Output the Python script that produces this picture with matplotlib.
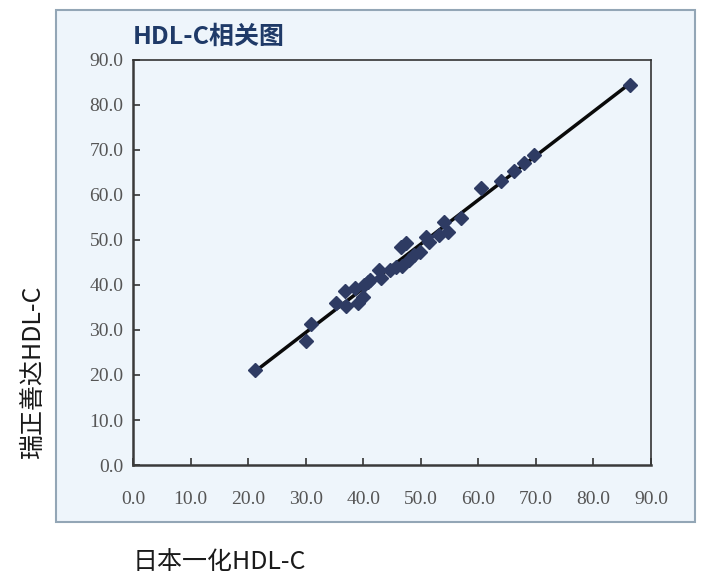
import matplotlib
matplotlib.use('Agg')
import matplotlib.pyplot as plt
import numpy as np
from matplotlib.patches import Rectangle

plt.rcParams['font.family'] = ['Noto Sans CJK SC', 'DejaVu Sans']

# 日本一化 HDL-C (x) vs 瑞正善达 HDL-C (y)
x_vals = [21.2, 30.1, 31.0, 35.3, 36.9, 37.0, 38.5, 39.1, 39.9, 40.2,
          40.8, 41.1, 42.8, 43.1, 44.6, 45.7, 46.8, 46.6, 47.5, 48.0,
          48.9, 49.8, 50.9, 51.5, 53.2, 54.1, 54.7, 57.0, 60.4, 63.9,
          66.2, 68.0, 69.7, 86.3]
y_vals = [21.0, 27.6, 31.3, 35.9, 38.7, 35.3, 39.3, 36.1, 37.4, 40.0,
          40.7, 41.1, 43.3, 41.5, 43.3, 44.1, 44.3, 48.5, 49.3, 45.6,
          46.7, 47.3, 50.7, 49.6, 51.1, 54.1, 51.8, 54.8, 61.5, 63.2,
          65.4, 67.0, 68.9, 84.4]
ticks = np.arange(0, 91, 10)
tick_labels = [f'{t:.1f}' for t in ticks]

title = 'HDL-C相关图'
x_label = '日本一化HDL-C'
y_label = '瑞正善达HDL-C'

bg = '#EEF5FB'
fig = plt.figure(figsize=(7.09, 5.78), dpi=100)
fig.patch.set_facecolor('white')

# 外框面板（放在坐标轴下面）
panel = Rectangle((0.079, 0.097), 0.901, 0.886, transform=fig.transFigure,
                  facecolor=bg, edgecolor='#93A6B6', lw=1.5, zorder=-5)
fig.patches.append(panel)

ax = fig.add_axes([0.1876, 0.1955, 0.7306, 0.7007])
ax.set_facecolor(bg)

# 趋势线（最小二乘）
k, b = np.polyfit(x_vals, y_vals, 1)
xs = np.array([min(x_vals), max(x_vals)])
ax.plot(xs, k * xs + b, color='#0A0A0A', lw=2.5, zorder=2)
ax.plot(x_vals, y_vals, linestyle='none', marker='D', markersize=7,
        color='#2E3B63', zorder=3)

ax.set_xlim(0, 90)
ax.set_ylim(0, 90)
ax.set_xticks(ticks)
ax.set_yticks(ticks)
ax.set_xticklabels(tick_labels, family='Liberation Serif', fontsize=14, color='#555555')
ax.set_yticklabels(tick_labels, family='Liberation Serif', fontsize=14, color='#555555')
ax.tick_params(axis='both', direction='in', length=5, width=1.2, color='#333333')
ax.tick_params(axis='x', pad=19)
ax.tick_params(axis='y', pad=7)
for side in ['left', 'bottom']:
    ax.spines[side].set_color('#3A3A3A')
    ax.spines[side].set_linewidth(1.8)
for side in ['top', 'right']:
    ax.spines[side].set_color('#333333')
    ax.spines[side].set_linewidth(1.2)

fig.text(0.1876, 0.936, title, ha='left', va='center', fontsize=18,
         fontweight='heavy', color='#1F3A68')
fig.text(0.1876, 0.028, x_label, ha='left', va='center', fontsize=18, color='#1A1A1A')
fig.text(0.047, 0.358, y_label, ha='center', va='center', rotation=90,
         fontsize=18, color='#1A1A1A')

plt.savefig('out.png', dpi=100)
